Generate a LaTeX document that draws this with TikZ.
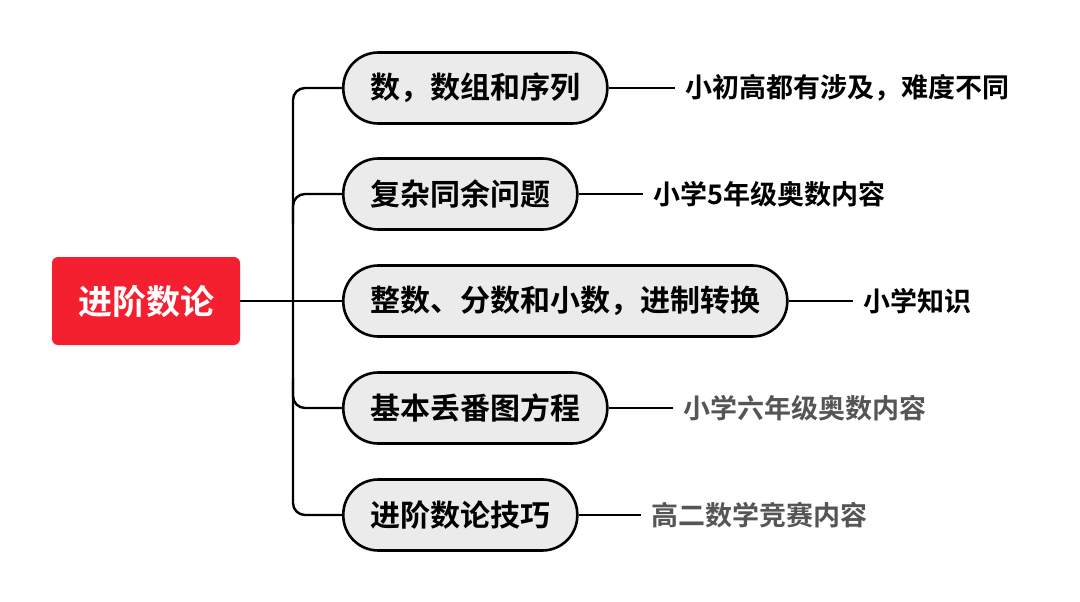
\documentclass[tikz,border=0pt]{standalone}
\usepackage{fontspec}
\setmainfont{Noto Sans CJK SC}[BoldFont={Noto Sans CJK SC Bold}]
\usetikzlibrary{calc}
\definecolor{rootred}{HTML}{F5202F}
\definecolor{boxgray}{HTML}{EBEBEB}
\definecolor{labgray}{HTML}{555555}
\tikzset{
  x=1pt,y=-1pt,
  rootbox/.style={fill=rootred,rounded corners=6pt,minimum width=188pt,minimum height=88pt,
    text=white,font=\bfseries\fontsize{34}{36}\selectfont,inner sep=0pt},
  topicbox/.style={draw=black,line width=2.6pt,fill=boxgray,rounded corners=35pt,
    minimum height=71pt,inner xsep=27pt,inner ysep=0pt,anchor=west,
    font=\bfseries\fontsize{30}{32}\selectfont},
  note/.style={anchor=west,inner xsep=11pt,inner ysep=0pt,font=\bfseries\fontsize{27}{30}\selectfont},
  graynote/.style={note,text=labgray},
  link/.style={line width=2.4pt,draw=black},
}
\begin{document}
\begin{tikzpicture}
\useasboundingbox (0,0) rectangle (1080,602);
\node[rootbox] (root) at (146,301) {进阶数论};
\node[topicbox] (b1) at (342,88) {数，数组和序列};
\node[topicbox] (b2) at (342,194) {复杂同余问题};
\node[topicbox] (b3) at (342,301) {整数、分数和小数，进制转换};
\node[topicbox] (b4) at (342,408) {基本丢番图方程};
\node[topicbox] (b5) at (342,515) {进阶数论技巧};
\node[note] (l1) at ($(b1.east)+(66,0)$) {小初高都有涉及，难度不同};
\node[note] (l2) at ($(b2.east)+(64,0)$) {小学5年级奥数内容};
\node[note] (l3) at ($(b3.east)+(64,0)$) {小学知识};
\node[graynote] (l4) at ($(b4.east)+(64,0)$) {小学六年级奥数内容};
\node[graynote] (l5) at ($(b5.east)+(62,0)$) {高二数学竞赛内容};
\coordinate (tm) at ($(b3.west)+(-49,0)$);
\coordinate (t2) at ($(b2.west)+(-49,30)$);
\coordinate (t4) at ($(b4.west)+(-49,-30)$);
\draw[link] (root.east) -- (b3.west);
\draw[link,rounded corners=12pt] (b1.west) -| (tm) |- (b5.west);
\draw[link,rounded corners=12pt] (b2.west) -| (t2);
\draw[link,rounded corners=12pt] (b4.west) -| (t4);
\draw[link] (b1.east) -- (l1.west);
\draw[link] (b2.east) -- (l2.west);
\draw[link] (b3.east) -- (l3.west);
\draw[link] (b4.east) -- (l4.west);
\draw[link] (b5.east) -- (l5.west);
\end{tikzpicture}
\end{document}
